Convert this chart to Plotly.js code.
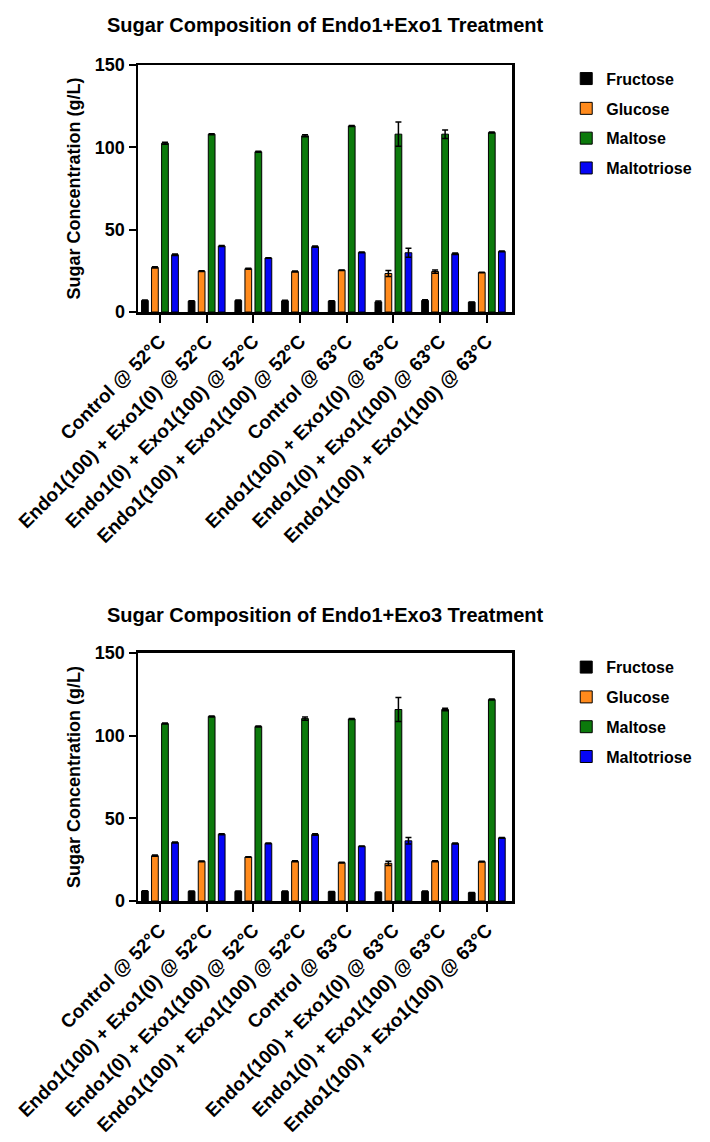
<!DOCTYPE html>
<html>
<head>
<meta charset="utf-8">
<script src="https://cdn.plot.ly/plotly-3.0.1.min.js"></script>
<style>
  html, body { margin: 0; padding: 0; background: #fff; }
  #chart { width: 710px; height: 1142px; }
</style>
</head>
<body>
<div id="chart"></div>
<script>
// treatment groups (same labels on both panels)
const categories = [
    'Control @ 52°C',
    'Endo1(100) + Exo1(0) @ 52°C',
    'Endo1(0) + Exo1(100) @ 52°C',
    'Endo1(100) + Exo1(100) @ 52°C',
    'Control @ 63°C',
    'Endo1(100) + Exo1(0) @ 63°C',
    'Endo1(0) + Exo1(100) @ 63°C',
    'Endo1(100) + Exo1(100) @ 63°C'
];
const sugars = ['Fructose', 'Glucose', 'Maltose', 'Maltotriose'];
const sugarColors = ['#000000', '#ff8a1c', '#0c7a0c', '#0505f5'];

// Endo1+Exo1 panel (g/L)
const fructoseExo1 = [7.0, 6.6, 7.0, 6.8, 6.6, 6.2, 7.0, 6.0];
const glucoseExo1 = [27.1, 24.8, 26.3, 24.6, 25.4, 23.4, 24.6, 24.0];
const maltoseExo1 = [102.5, 108.0, 97.3, 107.0, 113.0, 108.0, 108.0, 109.0];
const maltotrioseExo1 = [34.8, 40.1, 32.8, 39.7, 36.2, 36.0, 35.4, 36.8];
const fructoseExo1Err = [0.3, 0.2, 0.3, 0.3, 0.2, 0.5, 0.4, 0.1];
const glucoseExo1Err = [0.4, 0.2, 0.3, 0.3, 0.2, 1.8, 1.0, 0.2];
const maltoseExo1Err = [0.6, 0.3, 0.3, 0.6, 0.3, 7.4, 2.6, 0.3];
const maltotrioseExo1Err = [0.4, 0.3, 0.2, 0.4, 0.2, 2.8, 0.4, 0.2];

// Endo1+Exo3 panel (g/L)
const fructoseExo3 = [6.0, 5.8, 5.8, 5.8, 5.6, 5.2, 5.8, 5.0];
const glucoseExo3 = [27.4, 24.0, 26.6, 24.0, 23.2, 22.8, 24.0, 23.8];
const maltoseExo3 = [107.3, 111.6, 105.5, 110.3, 110.1, 115.8, 115.8, 121.8];
const maltotrioseExo3 = [35.4, 40.4, 34.8, 40.2, 33.1, 36.4, 34.8, 38.2];
const fructoseExo3Err = [0.2, 0.2, 0.2, 0.2, 0.2, 0.3, 0.2, 0.1];
const glucoseExo3Err = [0.4, 0.2, 0.2, 0.3, 0.2, 1.3, 0.3, 0.2];
const maltoseExo3Err = [0.3, 0.3, 0.3, 1.0, 0.3, 7.3, 0.8, 0.3];
const maltotrioseExo3Err = [0.3, 0.3, 0.2, 0.5, 0.2, 2.0, 0.3, 0.2];

const FONT = 'Arial, "Liberation Sans", sans-serif';

function makeTrace(i, values, errors, panel) {
    const suffix = panel === 1 ? '' : '2';
    return {
        type: 'bar',
        name: sugars[i],
        x: categories,
        y: values,
        xaxis: 'x' + suffix,
        yaxis: 'y' + suffix,
        legend: panel === 1 ? 'legend' : 'legend2',
        legendgroup: sugars[i] + panel,
        marker: {color: sugarColors[i], line: {color: '#000', width: 1}},
        error_y: {type: 'data', array: errors, visible: true, color: '#000', thickness: 1.5, width: 3}
    };
}

const data = [
    makeTrace(0, fructoseExo1, fructoseExo1Err, 1),
    makeTrace(1, glucoseExo1, glucoseExo1Err, 1),
    makeTrace(2, maltoseExo1, maltoseExo1Err, 1),
    makeTrace(3, maltotrioseExo1, maltotrioseExo1Err, 1),
    makeTrace(0, fructoseExo3, fructoseExo3Err, 2),
    makeTrace(1, glucoseExo3, glucoseExo3Err, 2),
    makeTrace(2, maltoseExo3, maltoseExo3Err, 2),
    makeTrace(3, maltotrioseExo3, maltotrioseExo3Err, 2)
];

function xAxis(anchor) {
    return {
        anchor: anchor,
        type: 'category',
        range: [-0.47, 7.54],
        showline: true, linewidth: 2.5, linecolor: '#000', mirror: true,
        ticks: 'outside', ticklen: 8, tickwidth: 2, tickcolor: '#000',
        tickangle: -45,
        tickfont: {family: FONT, size: 19, color: '#000', weight: 700},
        showgrid: false, zeroline: false, automargin: false
    };
}

function yAxis(anchor, domain) {
    return {
        anchor: anchor,
        domain: domain,
        range: [0, 150],
        tickvals: [0, 50, 100, 150],
        showline: true, linewidth: 2.5, linecolor: '#000', mirror: true,
        ticks: 'outside', ticklen: 7, tickwidth: 2, tickcolor: '#000',
        tickfont: {family: FONT, size: 18, color: '#000', weight: 700},
        title: {text: 'Sugar Concentration (g/L)', standoff: 10,
                font: {family: FONT, size: 18, color: '#000', weight: 700}},
        showgrid: false, zeroline: false, automargin: false
    };
}

function legendAt(y) {
    return {
        x: 1.145, xanchor: 'left', y: y, yanchor: 'top',
        font: {family: FONT, size: 16, color: '#000', weight: 700},
        tracegroupgap: 6, bgcolor: 'rgba(0,0,0,0)'
    };
}

const layout = {
    width: 710,
    height: 1142,
    margin: {l: 138, r: 198, t: 65, b: 241},
    paper_bgcolor: '#fff',
    plot_bgcolor: '#fff',
    barmode: 'group',
    bargap: 0.14,
    bargroupgap: 0.33,
    showlegend: true,
    xaxis: xAxis('y'),
    yaxis: yAxis('x', [0.7045, 1]),
    xaxis2: xAxis('y2'),
    yaxis2: yAxis('x2', [0, 0.2967]),
    legend: legendAt(1.004),
    legend2: legendAt(0.300),
    annotations: [
        {text: 'Sugar Composition of Endo1+Exo1 Treatment', xref: 'paper', yref: 'paper',
         x: 0.5, y: 1.048, showarrow: false, xanchor: 'center', yanchor: 'middle',
         font: {family: FONT, size: 20, color: '#000', weight: 700}},
        {text: 'Sugar Composition of Endo1+Exo3 Treatment', xref: 'paper', yref: 'paper',
         x: 0.5, y: 0.342, showarrow: false, xanchor: 'center', yanchor: 'middle',
         font: {family: FONT, size: 20, color: '#000', weight: 700}}
    ]
};

Plotly.newPlot('chart', data, layout, {displayModeBar: false, staticPlot: true});
</script>
</body>
</html>
